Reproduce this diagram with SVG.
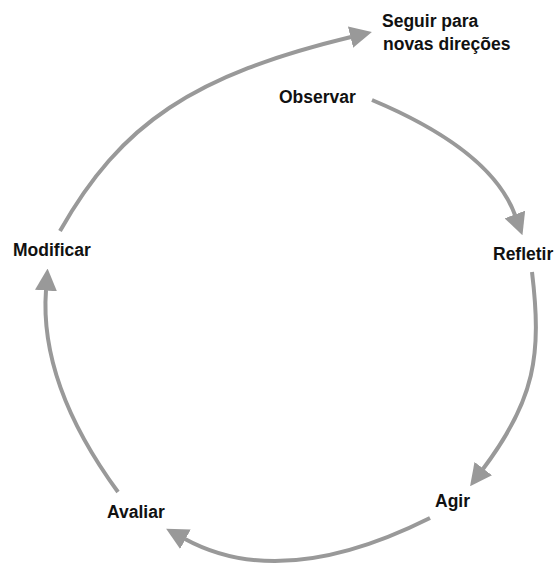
<svg xmlns="http://www.w3.org/2000/svg" width="555" height="564" viewBox="0 0 555 564">
<style>
.lbl{font-family:"Liberation Sans",Arial,sans-serif;font-weight:bold;font-size:17.5px;fill:#111}
.arc{fill:none;stroke:#999;stroke-width:4;marker-end:url(#ah)}
</style>
<defs>
<marker id="ah" viewBox="0 0 22 22" refX="0.5" refY="11" markerWidth="22" markerHeight="22" markerUnits="userSpaceOnUse" orient="auto">
<path d="M0,0 L22,11 L0,22 Z" fill="#999"/>
</marker>
</defs>
<rect width="555" height="564" fill="#fff"/>
<g id="connectors">
<path class="arc" d="M60,231 C121,123 194,75 351,37"/>
<path class="arc" d="M372,100 Q491,150 515,215"/>
<path class="arc" d="M532,272 C542,355 535,400 483,469"/>
<path class="arc" d="M430,518 Q282,592 185,539"/>
<path class="arc" d="M118,492 Q39,384 46,290"/>
</g>
<g id="seguir"><text class="lbl" x="382" y="27">Seguir para</text><text class="lbl" x="383" y="50">novas direções</text></g>
<g id="observar"><text class="lbl" x="279" y="103">Observar</text></g>
<g id="refletir"><text class="lbl" x="493" y="260">Refletir</text></g>
<g id="agir"><text class="lbl" x="435" y="507">Agir</text></g>
<g id="avaliar"><text class="lbl" x="107" y="518">Avaliar</text></g>
<g id="modificar"><text class="lbl" x="13" y="256">Modificar</text></g>
</svg>
